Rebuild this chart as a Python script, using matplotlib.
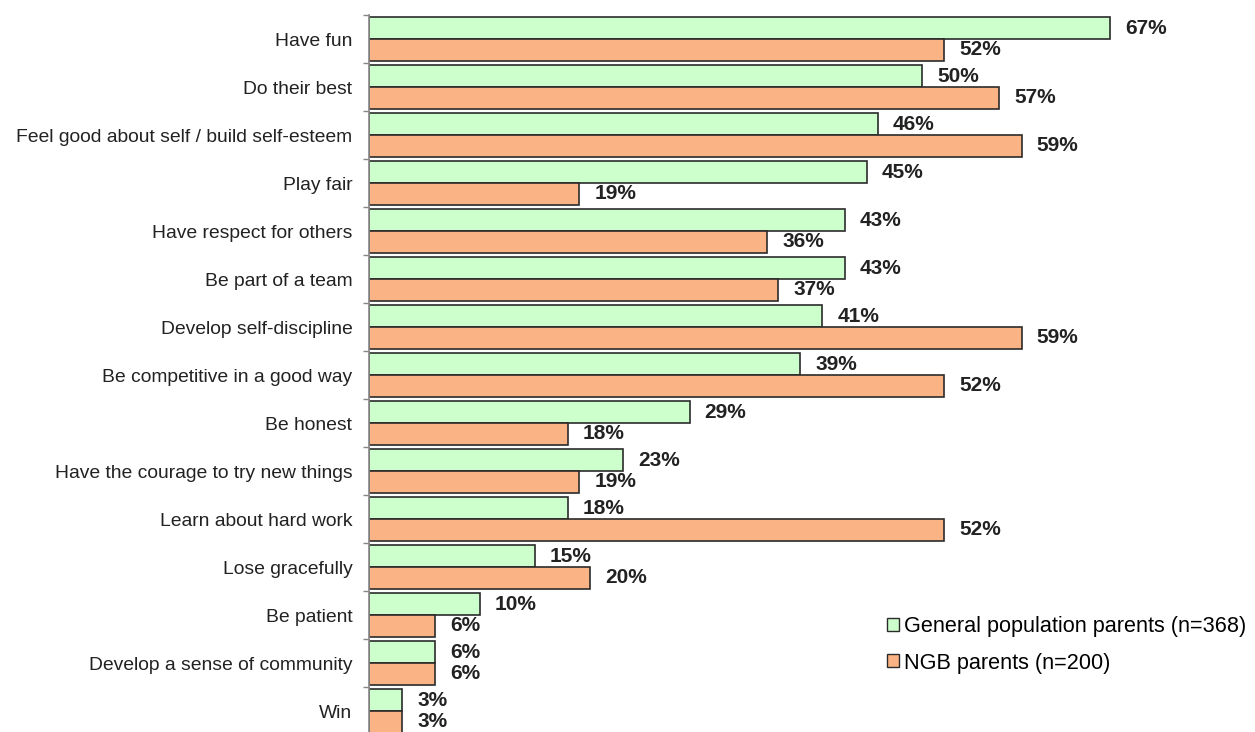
import matplotlib
matplotlib.use("Agg")
import matplotlib.pyplot as plt
from matplotlib.patches import Patch
import numpy as np

plt.rcParams['font.family'] = ['Liberation Sans', 'DejaVu Sans']

categories = [
    "Have fun", "Do their best", "Feel good about self / build self-esteem",
    "Play fair", "Have respect for others", "Be part of a team",
    "Develop self-discipline", "Be competitive in a good way", "Be honest",
    "Have the courage to try new things", "Learn about hard work",
    "Lose gracefully", "Be patient", "Develop a sense of community", "Win",
]
general = [67, 50, 46, 45, 43, 43, 41, 39, 29, 23, 18, 15, 10, 6, 3]
ngb = [52, 57, 59, 19, 36, 37, 59, 52, 18, 19, 52, 20, 6, 6, 3]
series_names = ["General population parents (n=368)", "NGB parents (n=200)"]

W, H = 1255, 732
fig = plt.figure(figsize=(W / 100, H / 100), dpi=100)
ax_left = 369 / W
ax_top = 15 / H
ax_bot = 735 / H
ax = fig.add_axes([ax_left, 1 - ax_bot, 1 - ax_left, ax_bot - ax_top])

green = "#CCFFCC"
orange = "#FAB384"
edge = "#2b2b2b"
y = np.arange(len(categories))
bh = 0.45
ax.barh(y - bh / 2, general, height=bh, color=green, edgecolor=edge, linewidth=1.2)
ax.barh(y + bh / 2, ngb, height=bh, color=orange, edgecolor=edge, linewidth=1.2)

xmax = (W - 369) / ((1110 - 369) / 67)
ax.set_xlim(0, xmax)
ax.set_ylim(len(categories) - 0.5, -0.5)

px_per_unit = (1110 - 369) / 67
off = 15 / px_per_unit
for i, (g, n) in enumerate(zip(general, ngb)):
    ax.text(g + off, i - bh / 2, f"{g}%", va="center", ha="left",
            fontsize=15, fontweight="bold", color="#222222")
    ax.text(n + off, i + bh / 2, f"{n}%", va="center", ha="left",
            fontsize=15, fontweight="bold", color="#222222")

ax.set_yticks(y)
ax.set_yticklabels(categories, fontsize=13.9, color="#222222")
ax.tick_params(axis="y", which="major", length=0, pad=12)
ax.set_yticks(np.arange(-0.5, len(categories), 1.0), minor=True)
ax.tick_params(axis="y", which="minor", length=4, color="#888888", width=1)
ax.set_xticks([])
for s in ["top", "right", "bottom"]:
    ax.spines[s].set_visible(False)
ax.spines["left"].set_color("#888888")
ax.spines["left"].set_linewidth(1.2)

handles = [Patch(facecolor=green, edgecolor=edge, linewidth=1.0),
           Patch(facecolor=orange, edgecolor=edge, linewidth=1.0)]
fig.legend(handles, series_names, loc="center left",
           bbox_to_anchor=(887 / W, 1 - 645 / H), frameon=False,
           fontsize=15.6, handlelength=0.55, handleheight=0.55,
           handletextpad=0.23, labelspacing=0.7, borderpad=0, borderaxespad=0)

fig.savefig("out.png", dpi=100)
